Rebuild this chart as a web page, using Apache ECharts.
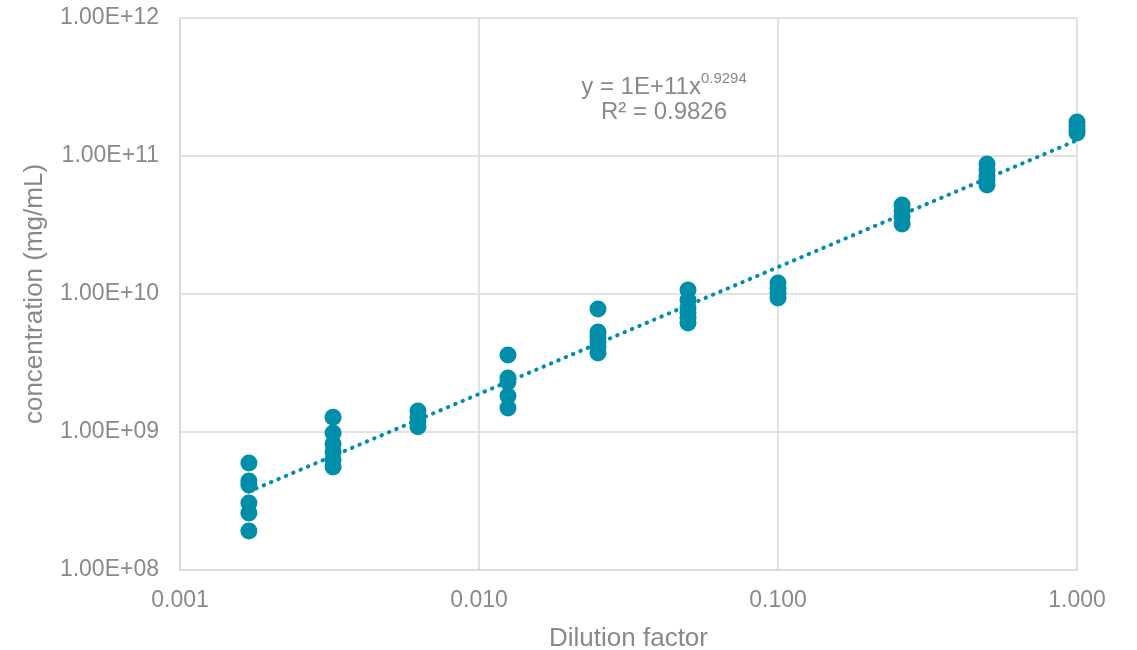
<!DOCTYPE html>
<html>
<head>
<meta charset="utf-8">
<script src="https://cdn.jsdelivr.net/npm/echarts@6/dist/echarts.min.js"></script>
<style>
html,body{margin:0;padding:0;background:#fff;}
#chart{width:1137px;height:650px;}
</style>
</head>
<body>
<div id="chart"></div>
<script>
// Dilution factor (x) for each column of replicate measurements
const dilutions = [0.0017, 0.00325, 0.00625, 0.0125, 0.025, 0.05, 0.1, 0.26, 0.5, 1.0];
// Concentration replicates (mg/mL) per dilution
const conc_0017  = [5.96e8, 4.42e8, 4.13e8, 3.06e8, 2.59e8, 1.92e8];
const conc_00325 = [1.28e9, 9.84e8, 8.19e8, 7.16e8, 6.27e8, 5.58e8];
const conc_00625 = [1.42e9, 1.28e9, 1.18e9, 1.09e9];
const conc_0125  = [3.61e9, 2.46e9, 2.30e9, 1.82e9, 1.49e9];
const conc_025   = [7.79e9, 5.31e9, 4.88e9, 4.49e9, 4.13e9, 3.74e9];
const conc_05    = [1.07e10, 9.05e9, 7.92e9, 7.28e9, 6.71e9, 6.17e9];
const conc_1     = [1.20e10, 1.10e10, 1.02e10, 9.35e9];
const conc_26    = [4.42e10, 3.99e10, 3.61e10, 3.21e10];
const conc_50    = [8.75e10, 7.92e10, 7.16e10, 6.70e10, 6.17e10];
const conc_100   = [1.76e11, 1.66e11, 1.54e11, 1.47e11];
const concGroups = [conc_0017, conc_00325, conc_00625, conc_0125, conc_025, conc_05, conc_1, conc_26, conc_50, conc_100];

// Power trendline endpoints (as drawn in the reference)
const trendX = [0.0017, 1.0];
const trendY = [3.7e8, 1.3e11];

const xTicks = [0.001, 0.01, 0.1, 1];
const yTicks = [1e8, 1e9, 1e10, 1e11, 1e12];
const eqText = ['y = 1E+11x', '0.9294', 'R² = 0.9826'];
const xTitle = 'Dilution factor';
const yTitle = 'concentration (mg/mL)';

const points = [];
dilutions.forEach((d, i) => concGroups[i].forEach(v => points.push([d, v])));
const trend = trendX.map((x, i) => [x, trendY[i]]);

function sci(v) {
  const e = Math.round(Math.log10(v));
  const m = v / Math.pow(10, e);
  const s = e < 0 ? '-' : '+';
  const a = Math.abs(e);
  return m.toFixed(2) + 'E' + s + (a < 10 ? '0' + a : '' + a);
}

const TEXT = '#898989';
const GRID = '#d9d9d9';
const MARK = '#008EA8';
const FONT = '"Liberation Sans", Arial, sans-serif';

const chart = echarts.init(document.getElementById('chart'), null, {renderer: 'canvas'});
chart.setOption({
  animation: false,
  backgroundColor: '#fff',
  textStyle: {fontFamily: FONT},
  grid: {left: 180, right: 60, top: 18, bottom: 80, containLabel: false, outerBoundsMode: 'none'},
  xAxis: {
    type: 'log', logBase: 10, min: xTicks[0], max: xTicks[xTicks.length - 1],
    name: xTitle, nameLocation: 'middle', nameGap: 56,
    nameTextStyle: {color: TEXT, fontSize: 26, fontFamily: FONT},
    axisLine: {show: true, lineStyle: {color: GRID, width: 1.5}},
    axisTick: {show: false},
    axisLabel: {color: TEXT, fontSize: 23, fontFamily: FONT, margin: 19,
      formatter: v => Number(v).toFixed(3)},
    splitLine: {show: true, lineStyle: {color: GRID, width: 1.5}},
    minorTick: {show: false}, minorSplitLine: {show: false}
  },
  yAxis: {
    type: 'log', logBase: 10, min: yTicks[0], max: yTicks[yTicks.length - 1],
    name: yTitle, nameLocation: 'middle', nameGap: 132, nameRotate: 90,
    nameTextStyle: {color: TEXT, fontSize: 26, fontFamily: FONT},
    axisLine: {show: true, lineStyle: {color: GRID, width: 1.5}},
    axisTick: {show: false},
    axisLabel: {color: TEXT, fontSize: 23, fontFamily: FONT, margin: 21,
      formatter: v => sci(Number(v))},
    splitLine: {show: true, lineStyle: {color: GRID, width: 1.5}}
  },
  series: [
    {
      type: 'scatter', data: points, symbol: 'circle', symbolSize: 17,
      itemStyle: {color: MARK, opacity: 1}, z: 2
    },
    {
      type: 'line', data: trend, symbol: 'none', silent: true, z: 3,
      lineStyle: {color: MARK, width: 4, type: [0.5, 7.5], cap: 'round'}
    }
  ],
  graphic: [
    {
      type: 'text', x: 664, y: 71, z: 10,
      style: {
        text: '{a|' + eqText[0] + '}{s|' + eqText[1] + '}',
        align: 'center',
        rich: {
          a: {fontSize: 24, fill: TEXT, fontFamily: FONT, verticalAlign: 'bottom', lineHeight: 28},
          s: {fontSize: 15, fill: TEXT, fontFamily: FONT, verticalAlign: 'top', lineHeight: 28, padding: [0, 0, 13, 0]}
        }
      }
    },
    {
      type: 'text', x: 664, y: 100, z: 10,
      style: {text: eqText[2], fontSize: 24, fill: TEXT, fontFamily: FONT, align: 'center'}
    }
  ]
});
</script>
</body>
</html>
